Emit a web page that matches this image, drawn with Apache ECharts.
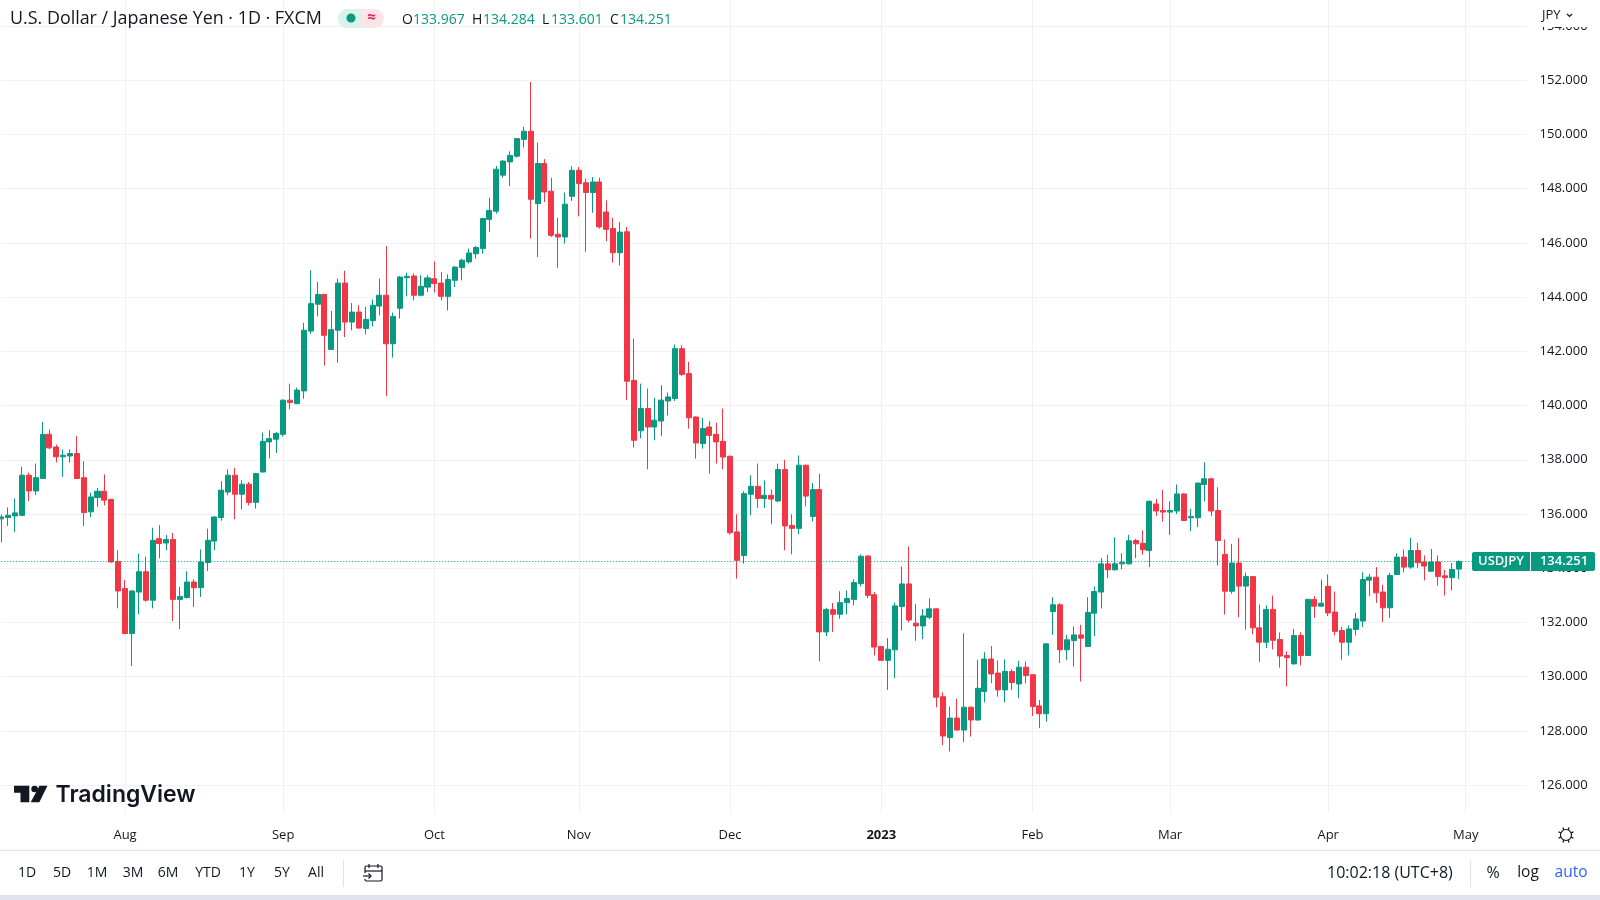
<!DOCTYPE html>
<html><head><meta charset="utf-8">
<style>html,body{margin:0;padding:0;background:#fff;overflow:hidden}#c{width:1600px;height:900px}</style>
<script src="https://cdn.jsdelivr.net/npm/echarts@6/dist/echarts.min.js"></script>
</head><body><div id="c"></div>
<script>
const opens=[
135.82,135.87,135.93,135.95,137.43,136.85,137.31,138.94,138.47,138.11,
138.14,138.23,137.34,136.08,136.61,136.84,136.54,134.25,133.25,131.59,
133.12,133.87,132.82,135.09,134.93,135.06,132.85,132.92,133.49,133.28,
134.21,135.00,135.87,136.81,137.43,136.73,137.10,136.43,137.55,138.66,
138.76,138.94,140.20,140.07,140.54,142.75,143.74,144.10,142.07,142.78,
144.52,143.08,143.45,142.84,143.14,143.67,144.07,142.28,143.59,144.72,
144.78,144.07,144.37,144.68,144.52,144.03,144.62,145.09,145.30,145.60,
145.79,146.87,147.17,148.50,148.99,149.20,149.82,150.12,147.45,148.93,
147.91,146.32,146.22,147.72,148.68,148.22,147.86,148.25,147.14,146.53,
145.64,146.41,140.93,139.07,139.89,139.21,139.43,140.17,140.26,142.10,
141.18,139.58,138.60,139.21,138.94,138.68,138.13,135.34,134.47,136.73,
137.02,136.57,136.69,136.48,137.64,135.58,135.47,137.80,135.91,136.90,
131.65,132.47,132.30,132.73,132.85,133.43,134.45,133.02,131.11,130.60,
130.99,132.59,133.42,131.97,131.87,132.19,132.50,129.26,127.75,128.47,
128.03,128.87,128.40,129.45,130.65,130.13,129.51,130.19,129.73,130.35,
130.07,128.92,128.63,132.40,132.65,130.99,131.33,131.54,131.11,132.34,
133.12,134.16,133.94,134.16,134.16,135.02,134.92,134.65,136.37,136.13,
136.07,136.11,136.74,135.86,135.86,137.09,137.30,136.13,134.51,133.15,
134.19,133.34,133.69,131.80,131.27,132.48,131.37,130.78,130.47,131.52,
130.78,132.85,132.60,133.33,132.38,131.70,131.27,131.74,132.05,133.56,
133.67,133.12,132.54,133.77,134.41,134.04,134.65,134.23,133.89,134.23,
133.72,133.65,133.967];
const closes=[
135.89,135.95,136.04,137.43,136.85,137.34,138.94,138.44,138.11,138.17,
138.23,137.31,136.05,136.63,136.84,136.51,134.23,133.16,131.59,133.16,
133.87,132.82,135.03,134.91,135.06,132.85,132.96,133.49,133.28,134.23,
135.03,135.89,136.88,137.43,136.73,137.10,136.42,137.49,138.68,138.78,
138.97,140.20,140.11,140.57,142.78,143.76,144.10,142.59,142.80,144.52,
143.08,143.45,142.86,143.18,143.70,144.07,142.28,143.29,144.74,144.77,
144.07,144.40,144.71,144.50,144.03,144.65,145.11,145.36,145.63,145.83,
146.90,147.20,148.72,149.02,149.23,149.85,150.12,147.61,148.93,147.88,
146.28,146.22,147.43,148.68,148.19,147.86,148.25,146.59,146.50,145.64,
146.40,140.90,138.72,139.89,139.21,139.46,140.20,140.32,142.10,141.15,
139.55,138.62,139.15,138.90,138.66,138.10,135.31,134.29,136.75,137.02,
136.57,136.69,136.55,137.64,135.56,135.47,137.80,136.66,136.90,131.65,
132.48,132.30,132.73,132.88,133.47,134.44,133.00,131.09,130.60,131.01,
132.61,133.42,132.09,131.87,132.24,132.50,129.24,127.81,128.47,128.03,
128.87,128.40,129.57,130.65,130.10,129.51,130.19,129.78,130.35,130.04,
128.90,128.63,131.21,132.65,130.99,131.36,131.54,131.42,132.37,133.14,
134.16,133.94,134.16,134.22,135.01,134.90,134.68,136.47,136.11,136.07,
136.13,136.74,135.76,135.91,137.14,137.30,136.11,135.02,133.15,134.19,
133.34,133.69,131.80,131.27,132.48,131.34,130.76,130.70,131.52,130.78,
132.85,132.60,132.71,132.35,131.67,131.27,131.76,132.13,133.58,133.67,
133.09,132.54,133.73,134.41,134.04,134.65,134.20,134.08,134.23,133.69,
133.65,133.95,134.251];
const highs=[
135.98,136.24,136.57,137.74,137.52,137.86,139.40,139.12,138.56,138.38,
138.38,138.87,137.95,136.79,136.96,137.46,136.56,134.66,133.56,133.18,
134.54,134.42,135.49,135.59,135.22,135.30,133.31,133.89,133.59,134.69,
135.46,135.91,137.21,137.65,137.70,137.25,137.18,137.52,139.00,139.09,
139.03,140.22,140.81,140.66,143.05,144.99,144.56,144.12,143.49,144.68,
144.97,143.78,143.70,143.64,143.91,144.68,145.88,143.43,144.78,144.90,
144.87,144.81,144.81,145.32,144.93,144.84,145.14,145.42,145.79,145.89,
146.93,147.67,148.84,149.05,149.38,149.87,150.28,151.94,149.70,149.09,
148.41,146.93,147.86,148.83,148.80,148.37,148.43,148.41,147.57,146.93,
146.77,146.59,142.47,140.81,140.63,140.29,140.75,140.48,142.25,142.22,
141.61,139.60,139.55,139.43,139.36,139.89,138.15,135.99,136.84,137.43,
137.86,137.24,136.90,137.86,138.00,135.99,138.16,137.82,137.14,137.49,
132.54,132.72,133.15,133.18,133.59,134.51,134.47,133.12,131.13,131.42,
132.73,134.06,134.80,132.68,132.49,132.89,132.52,129.42,128.90,129.18,
131.60,128.90,130.62,130.90,131.13,130.60,130.64,130.27,130.58,130.56,
130.09,129.14,131.23,132.93,132.71,131.54,131.85,131.91,132.93,133.33,
134.37,134.50,135.14,134.55,135.23,135.08,135.39,136.50,136.56,136.89,
136.47,137.09,136.77,136.19,137.16,137.91,137.32,136.99,135.06,134.90,
135.12,133.83,133.71,132.66,132.63,132.99,131.63,130.93,131.76,131.64,
132.87,132.97,133.58,133.77,133.14,131.83,131.89,132.35,133.85,133.79,
134.04,133.39,133.83,134.55,134.69,135.12,134.94,134.47,134.71,134.47,
133.94,134.19,134.284];
const lows=[
134.95,135.56,135.34,135.93,136.48,136.70,137.29,138.39,137.90,137.37,
137.90,137.29,135.56,135.89,136.26,136.32,134.21,132.52,131.57,130.39,
132.30,132.76,132.52,134.36,134.66,132.05,131.75,132.88,132.57,132.94,
133.90,134.66,135.75,136.69,135.81,136.17,136.32,136.20,137.53,138.05,
138.25,138.85,139.87,140.05,140.25,142.65,143.29,141.48,142.05,141.58,
142.53,142.78,142.84,142.63,142.92,143.33,140.35,141.77,143.21,144.03,
143.88,144.03,144.19,144.17,143.88,143.51,144.37,144.62,145.24,145.42,
145.60,146.40,147.08,148.41,148.10,149.15,149.52,146.16,145.48,147.51,
146.22,145.08,145.97,147.55,146.98,145.67,147.11,146.53,146.06,145.27,
145.17,140.20,138.45,138.79,137.65,138.72,138.87,139.64,140.17,141.09,
139.15,138.04,138.41,137.49,137.86,137.65,135.24,133.62,134.17,135.95,
136.22,136.22,135.62,136.44,134.66,134.51,135.25,136.28,135.73,130.56,
131.50,131.65,132.14,132.30,132.63,133.33,132.90,130.78,130.58,129.51,
129.94,131.70,132.00,131.32,131.38,132.12,128.87,127.48,127.24,128.01,
127.58,127.79,128.38,129.05,129.76,129.26,129.05,129.51,129.20,129.76,
128.55,128.10,128.34,131.54,130.50,130.62,130.37,129.82,131.09,131.50,
132.52,133.63,133.92,133.96,134.14,134.37,134.50,134.04,135.92,135.72,
135.23,136.00,135.74,135.37,135.52,136.47,135.92,134.10,132.29,133.06,
132.19,131.73,131.56,130.54,131.05,131.00,130.33,129.64,130.45,130.42,
130.76,132.17,132.58,132.23,131.52,130.62,130.78,131.52,131.83,132.97,
132.72,132.01,132.17,133.75,133.85,133.98,134.01,133.55,133.87,133.36,
132.99,133.18,133.601];
const monthTicks=[18,41,63,84,106,128,150,170,193,213];
const monthNames=['Aug','Sep','Oct','Nov','Dec','2023','Feb','Mar','Apr','May'];
const slotCount=223;
const lastPrice=134.251;
const rangeButtons=[['1D',27],['5D',62],['1M',97],['3M',133],['6M',168],['YTD',208],['1Y',247],['5Y',282],['All',316]];

const UP='#089981',DOWN='#F23645',INK='#131722',F='"Open Sans",sans-serif';
const categories=Array.from({length:slotCount},(_,i)=>{const k=monthTicks.indexOf(i);return k>=0?monthNames[k]:'s'+i;});
const candles=opens.map((o,i)=>[o,closes[i],lows[i],highs[i]]);
const isTick=(i)=>monthTicks.indexOf(i)>=0;
const txt=(t,x,y,o={})=>({type:'text',z:20,x,y,style:{text:t,fill:o.fill||INK,font:(o.weight||'400')+' '+(o.size||14)+'px '+(o.family||F),textAlign:o.align||'left',textVerticalAlign:'middle'}});
const rect=(x,y,w,h,fill,z=5,r=0)=>({type:'rect',z,shape:{x,y,width:w,height:h,r},style:{fill}});
const line=(x1,y1,x2,y2,c,w=1)=>({type:'line',z:20,shape:{x1,y1,x2,y2},style:{stroke:c,lineWidth:w}});

const gearTicks=[];
for(let a=0;a<8;a++){const t=a*Math.PI/4+Math.PI/8;gearTicks.push(line(1566+Math.cos(t)*5.5,835+Math.sin(t)*5.5,1566+Math.cos(t)*8,835+Math.sin(t)*8,INK,1.3));}

const elements=[
 rect(0,813,1600,87,'#fff',5),
 rect(1530,0,70,27,'#fff',5),
 rect(0,850,1600,1,'#e0e3eb',6),
 rect(0,895,1600,5,'#e0e3eb',6),
 // header
 txt('U.S. Dollar / Japanese Yen · 1D · FXCM',10,18.5,{size:17.9}),
 {type:'rect',z:18,shape:{x:338,y:9,width:46,height:19,r:9.5},style:{fill:'#fde4e8'}},
 {type:'rect',z:19,shape:{x:338,y:9,width:23,height:19,r:[9.5,0,0,9.5]},style:{fill:'#d9f2ec'}},
 {type:'circle',z:20,shape:{cx:351,cy:18,r:4.5},style:{fill:UP}},
 txt('≈',371.5,18,{size:15,fill:'#e0245e',align:'center',weight:'700'}),
 txt('O',402,20,{size:14}),txt('133.967',413,20,{size:14,fill:UP}),
 txt('H',472,20,{size:14}),txt('134.284',483,20,{size:14,fill:UP}),
 txt('L',542,20,{size:14}),txt('133.601',551,20,{size:14,fill:UP}),
 txt('C',610,20,{size:14}),txt('134.251',620,20,{size:14,fill:UP}),
 // currency
 txt('JPY',1542,15,{size:13}),
 {type:'polyline',z:20,shape:{points:[[1567,14],[1569.5,16.5],[1572,14]]},style:{stroke:INK,lineWidth:1.2,fill:'none'}},
 // last price tag
 rect(1472,552,123,19,UP,15,2),
 rect(1530,552,1,19,'#fff',16),
 txt('USDJPY',1501,561.5,{size:13,fill:'#fff',align:'center',weight:'600'}),
 txt('134.251',1564,561.5,{size:13,fill:'#fff',align:'center',weight:'600'}),
 // logo
 {type:'polygon',z:20,shape:{points:[[14,785.7],[29.3,785.7],[29.3,802.3],[20.5,802.3],[20.5,792.7],[14,792.7]]},style:{fill:INK}},
 {type:'circle',z:20,shape:{cx:34.6,cy:789,r:3.3},style:{fill:INK}},
 {type:'polygon',z:20,shape:{points:[[39.5,785.7],[47.5,785.7],[39.3,802.3],[30.7,802.3]]},style:{fill:INK}},
 txt('TradingView',55.5,795,{size:23,weight:'600',family:'Inter,sans-serif'}),
 // bottom toolbar
 ...rangeButtons.map(b=>txt(b[0],b[1],873,{size:14,align:'center'})),
 line(343.5,860,343.5,887,'#e0e3eb'),
 {type:'rect',z:20,shape:{x:365,y:866,width:17,height:15,r:1.5},style:{stroke:INK,fill:'none',lineWidth:1.2}},
 line(365,871,382,871,INK,1.2),line(369,864,369,868,INK,1.2),line(378,864,378,868,INK,1.2),
 rect(362,873,8,6,'#fff',20),line(363,876,371,876,INK,1.2),
 {type:'polyline',z:20,shape:{points:[[368.5,873.5],[371,876],[368.5,878.5]]},style:{stroke:INK,lineWidth:1.2,fill:'none'}},
 txt('10:02:18 (UTC+8)',1327,873,{size:16}),
 line(1470.5,860,1470.5,887,'#e0e3eb'),
 txt('%',1493,873,{size:16,align:'center'}),
 txt('log',1528,873,{size:15.5,align:'center'}),
 txt('auto',1571,873,{size:15.5,align:'center',fill:'#2962ff'}),
 // settings
 {type:'circle',z:20,shape:{cx:1566,cy:835,r:5.5},style:{stroke:INK,fill:'none',lineWidth:1.2}},
 ...gearTicks
];

const chart=echarts.init(document.getElementById('c'),null,{renderer:'canvas',width:1600,height:900});
chart.setOption({
 animation:false,
 backgroundColor:'#ffffff',
 textStyle:{fontFamily:F},
 grid:{left:1.3,top:-28.13,width:1526.25,height:867.4,containLabel:false,outerBoundsMode:'none'},
 xAxis:[
  {type:'category',position:'bottom',data:categories,boundaryGap:false,
   axisLine:{show:false},axisTick:{show:false},axisLabel:{show:false},
   splitLine:{show:true,interval:(i)=>isTick(i),lineStyle:{color:'#f0f1f4',width:1}}},
  {type:'category',position:'bottom',data:categories,boundaryGap:false,z:10,
   axisLine:{show:false},axisTick:{show:false},splitLine:{show:false},
   axisLabel:{show:true,interval:(i)=>isTick(i),margin:-10,color:INK,fontSize:13,fontFamily:F,
    hideOverlap:false,showMinLabel:true,showMaxLabel:true,
    formatter:(v)=>v==='2023'?'{b|2023}':v,rich:{b:{fontWeight:'700',fontSize:13,color:INK,fontFamily:F}}}}
 ],
 yAxis:{type:'value',position:'right',min:124,max:156,interval:2,
  axisLine:{show:false},axisTick:{show:false},
  axisLabel:{margin:12,color:INK,fontSize:13,fontFamily:F,padding:[2,0,0,0],formatter:(v)=>v.toFixed(3)},
  splitLine:{show:true,lineStyle:{color:'#f0f1f4',width:1}}},
 series:[{
  type:'candlestick',xAxisIndex:0,yAxisIndex:0,data:candles,barWidth:5.6,clip:false,
  large:false,progressive:0,
  itemStyle:{color:UP,color0:DOWN,borderColor:UP,borderColor0:DOWN,borderWidth:1},
  markLine:{silent:true,symbol:'none',animation:false,label:{show:false},
   lineStyle:{color:UP,type:[1,2],width:1},data:[{yAxis:lastPrice}]}
 }],
 graphic:{elements}
});
</script></body></html>
